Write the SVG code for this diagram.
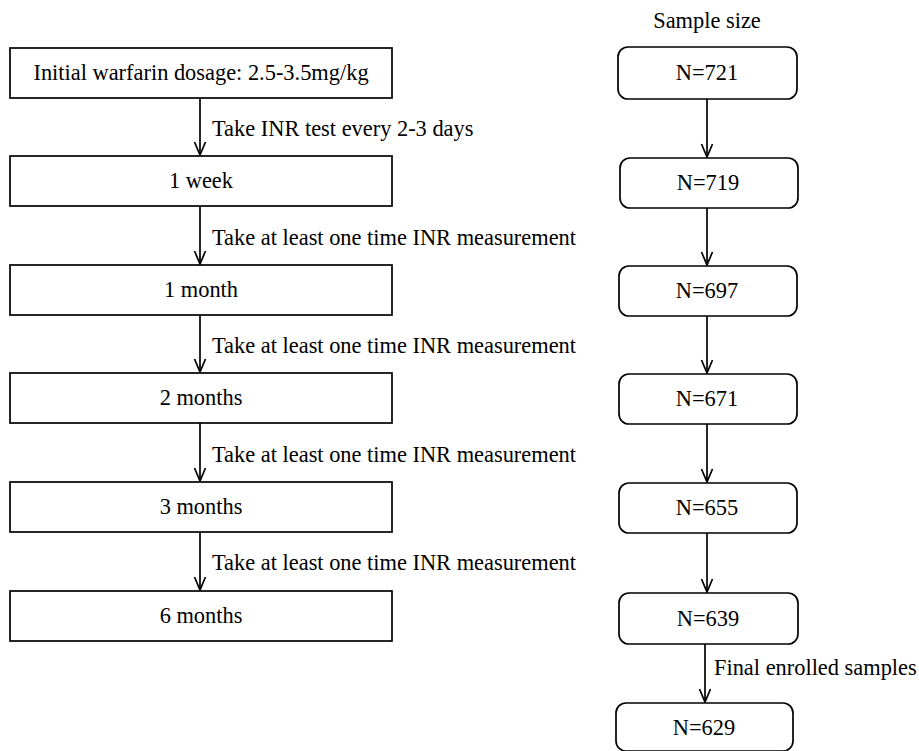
<svg xmlns="http://www.w3.org/2000/svg" width="919" height="751" viewBox="0 0 919 751">
<style>
text{font-family:'Liberation Serif','Times New Roman',serif;font-size:22.4px;fill:#000}
.c{text-anchor:middle}
.box{fill:#fff;stroke:#000;stroke-width:1.7}
.ln{fill:none;stroke:#000;stroke-width:1.7}
</style>
<defs>
<marker id="ah" markerWidth="16" markerHeight="14" refX="14" refY="7" orient="auto" markerUnits="userSpaceOnUse" viewBox="0 0 16 14">
<path d="M1,1.5 L14,7 L1,12.5" fill="none" stroke="#000" stroke-width="1.7"/>
</marker>
</defs>
<rect width="919" height="751" fill="#fff"/>
<g font-family="Liberation Serif, Times New Roman, serif">
<text class="c" x="707" y="28">Sample size</text>
<g id="connectors">
<line class="ln" x1="200" y1="98" x2="200" y2="155" marker-end="url(#ah)"/>
<line class="ln" x1="200" y1="206" x2="200" y2="264" marker-end="url(#ah)"/>
<line class="ln" x1="200" y1="315" x2="200" y2="372" marker-end="url(#ah)"/>
<line class="ln" x1="200" y1="423" x2="200" y2="481" marker-end="url(#ah)"/>
<line class="ln" x1="200" y1="532" x2="200" y2="590" marker-end="url(#ah)"/>
<line class="ln" x1="707" y1="99" x2="707" y2="157" marker-end="url(#ah)"/>
<line class="ln" x1="707" y1="208" x2="707" y2="265" marker-end="url(#ah)"/>
<line class="ln" x1="707" y1="316" x2="707" y2="373" marker-end="url(#ah)"/>
<line class="ln" x1="707" y1="424" x2="707" y2="482" marker-end="url(#ah)"/>
<line class="ln" x1="707" y1="533" x2="707" y2="592" marker-end="url(#ah)"/>
<line class="ln" x1="705" y1="644" x2="705" y2="702" marker-end="url(#ah)"/>
<text x="212" y="136">Take INR test every 2-3 days</text>
<text x="212" y="245">Take at least one time INR measurement</text>
<text x="212" y="353">Take at least one time INR measurement</text>
<text x="212" y="462">Take at least one time INR measurement</text>
<text x="212" y="570">Take at least one time INR measurement</text>
<text x="714" y="675">Final enrolled samples</text>
</g>
<g id="s0"><rect class="box" x="10" y="48" width="382" height="50"/><text class="c" x="201" y="80">Initial warfarin dosage: 2.5-3.5mg/kg</text></g>
<g id="s1"><rect class="box" x="10" y="156" width="382" height="50"/><text class="c" x="201" y="188">1 week</text></g>
<g id="s2"><rect class="box" x="10" y="265" width="382" height="50"/><text class="c" x="201" y="297">1 month</text></g>
<g id="s3"><rect class="box" x="10" y="373" width="382" height="50"/><text class="c" x="201" y="405">2 months</text></g>
<g id="s4"><rect class="box" x="10" y="482" width="382" height="50"/><text class="c" x="201" y="514">3 months</text></g>
<g id="s5"><rect class="box" x="10" y="591" width="382" height="50"/><text class="c" x="201" y="623">6 months</text></g>
<g id="n0"><rect class="box" x="618" y="47" width="179" height="52" rx="10"/><text class="c" x="707" y="80">N=721</text></g>
<g id="n1"><rect class="box" x="620" y="158" width="178" height="50" rx="10"/><text class="c" x="708" y="190">N=719</text></g>
<g id="n2"><rect class="box" x="619" y="266" width="178" height="50" rx="10"/><text class="c" x="707" y="298">N=697</text></g>
<g id="n3"><rect class="box" x="619" y="374" width="178" height="50" rx="10"/><text class="c" x="707" y="406">N=671</text></g>
<g id="n4"><rect class="box" x="619" y="483" width="178" height="50" rx="10"/><text class="c" x="707" y="515">N=655</text></g>
<g id="n5"><rect class="box" x="619" y="593" width="179" height="51" rx="10"/><text class="c" x="708" y="626">N=639</text></g>
<g id="n6"><rect class="box" x="616" y="703" width="177" height="48" rx="10"/><text class="c" x="704" y="735">N=629</text></g>
</g>
</svg>
